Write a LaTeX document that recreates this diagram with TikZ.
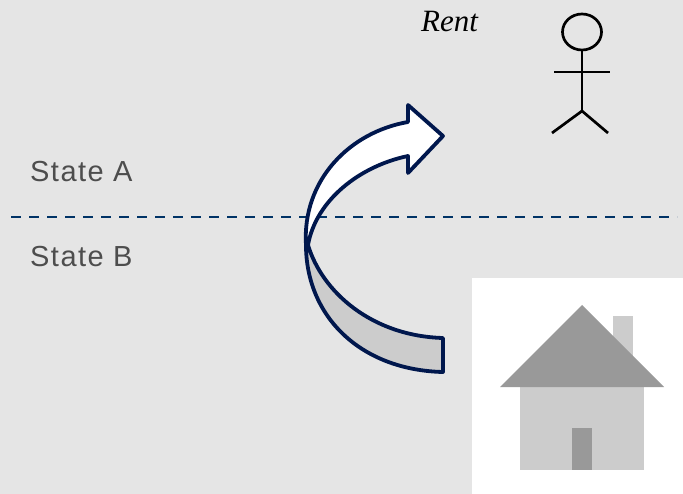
\documentclass[tikz,border=0pt]{standalone}
\usepackage{fontspec}
\usetikzlibrary{shapes.geometric}
\setmainfont{Liberation Serif}
\newfontfamily\statefont[LetterSpace=5]{Liberation Sans}
\definecolor{bgc}{HTML}{E5E5E5}
\definecolor{dashc}{HTML}{003366}
\definecolor{arrowc}{HTML}{00174D}
\definecolor{lightg}{HTML}{CCCCCC}
\definecolor{darkg}{HTML}{999999}
\definecolor{textg}{HTML}{4D4D4D}
\tikzset{
  arrowshape/.style={draw=arrowc,line width=3.8pt,line join=round},
  stick/.style={draw=black,line width=2.7pt},
  statelabel/.style={anchor=base west,inner sep=0pt,text=textg,font=\statefont\fontsize{29}{30}\selectfont},
}
\begin{document}
\begin{tikzpicture}[x=1pt,y=-1pt]
\useasboundingbox (0,0) rectangle (683,494);
\fill[bgc] (0,0) rectangle (683,494);
\fill[white] (472,278) rectangle (683,494);
% house
\fill[lightg] (613,316) rectangle (633,365);
\fill[lightg] (520,387) rectangle (644,470);
\fill[darkg] (582,305) -- (664,387) -- (500,387) -- cycle;
\fill[darkg] (572,428) rectangle (592,470);
% divider
\coordinate (dl) at (11,217);
\coordinate (dr) at (677,217);
\draw[dashc,line width=2.6pt,dash pattern=on 10pt off 8pt] (dl) -- (dr);
% labels
\node[statelabel] (sa) at (30,182) {State A};
\node[statelabel] (sb) at (30,267) {State B};
\node[anchor=base west,inner sep=0pt,font=\fontsize{31}{32}\selectfont\itshape,text=black] (rent) at (421,32) {Rent};
% curved arrow
\path[arrowshape,fill=lightg] (308,245) .. controls (322,292) and (372,336) .. (443,338)
  -- (443,372) .. controls (360,370) and (306,316) .. (306,245) -- cycle;
\path[arrowshape,fill=white] (306,245) .. controls (302,180) and (350,132) .. (408,122)
  -- (408,105) -- (443,136) -- (408,173) -- (408,156)
  .. controls (360,166) and (316,200) .. (308,245) -- cycle;
% stick figure
\node[draw=black,line width=2.7pt,ellipse,minimum width=39pt,minimum height=36pt,inner sep=0pt] (head) at (582,32) {};
\coordinate (hip) at (582,111);
\coordinate (al) at (554,72);
\coordinate (ar) at (610,72);
\coordinate (ll) at (552,133);
\coordinate (lr) at (608,133);
\draw[stick] (head.south) -- (hip);
\draw[stick] (al) -- (ar);
\draw[stick] (ll) -- (hip) -- (lr);
\end{tikzpicture}
\end{document}
